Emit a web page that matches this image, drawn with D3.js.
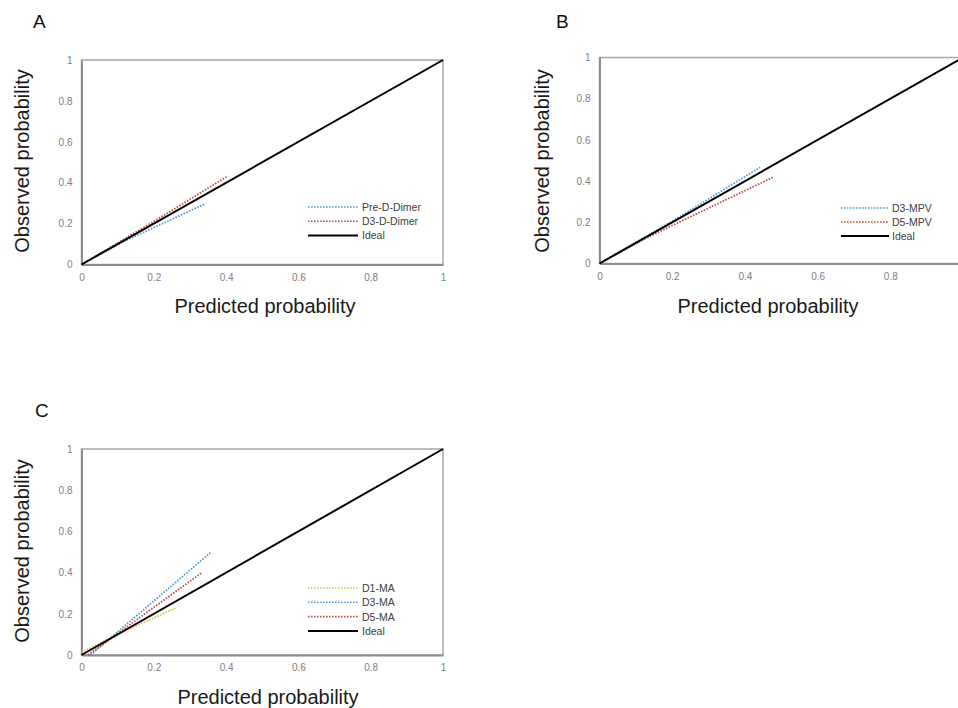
<!DOCTYPE html>
<html>
<head>
<meta charset="utf-8">
<script src="https://cdn.jsdelivr.net/npm/d3@7"></script>
<style>
  html, body { margin: 0; padding: 0; background: #fff; }
  svg { display: block; font-family: "Liberation Sans", Arial, sans-serif; }
</style>
</head>
<body>
<svg id="chart" width="958" height="708"></svg>
<script>
// ---- Data ----
const tickValues = [0, 0.2, 0.4, 0.6, 0.8, 1];
const tickLabels = ["0", "0.2", "0.4", "0.6", "0.8", "1"];
const ideal = [[0, 0], [1, 1]];

// Panel A
const preDDimer = [[0, 0], [0.12, 0.115], [0.34, 0.295]];
const d3DDimer  = [[0, 0], [0.2, 0.21], [0.405, 0.433]];
// Panel B
const d3MPV = [[0, 0], [0.2, 0.205], [0.442, 0.467]];
const d5MPV = [[0, 0], [0.13, 0.125], [0.48, 0.421]];
// Panel C
const d1MA = [[0, 0.012], [0.1, 0.1], [0.26, 0.228]];
const d3MA = [[0.025, 0], [0.359, 0.5]];
const d5MA = [[0.018, 0], [0.333, 0.4]];

const BLUE = "#5b9bd5", RED = "#c0504d", YEL = "#d6c85a";
const W = 958;

const panels = [
  { letter: "A", lx: 33, ly: 28,
    box: { l: 81.5, r: 443, t: 60, b: 264.5 },
    xTitle: { x: 265, y: 313 }, yTitle: { x: 29, y: 161 },
    legend: { x1: 308, x2: 358, tx: 362, y0: 207, dy: 14.2 },
    series: [
      { name: "Pre-D-Dimer", data: preDDimer, color: BLUE, dotted: true },
      { name: "D3-D-Dimer", data: d3DDimer, color: RED, dotted: true },
      { name: "Ideal", data: ideal, color: "#000", dotted: false }
    ] },
  { letter: "B", lx: 556, ly: 28,
    box: { l: 599.5, r: 963, t: 57.5, b: 263.5 },
    xTitle: { x: 768, y: 313 }, yTitle: { x: 549, y: 161 },
    legend: { x1: 841, x2: 889, tx: 892, y0: 208, dy: 14 },
    series: [
      { name: "D3-MPV", data: d3MPV, color: BLUE, dotted: true },
      { name: "D5-MPV", data: d5MPV, color: RED, dotted: true },
      { name: "Ideal", data: ideal, color: "#000", dotted: false }
    ] },
  { letter: "C", lx: 35, ly: 417,
    box: { l: 81.5, r: 443, t: 449, b: 655 },
    xTitle: { x: 268, y: 704 }, yTitle: { x: 29, y: 551 },
    legend: { x1: 308, x2: 358, tx: 362, y0: 588, dy: 14.3 },
    series: [
      { name: "D1-MA", data: d1MA, color: YEL, dotted: true },
      { name: "D3-MA", data: d3MA, color: BLUE, dotted: true },
      { name: "D5-MA", data: d5MA, color: RED, dotted: true },
      { name: "Ideal", data: ideal, color: "#000", dotted: false }
    ] }
];

const svg = d3.select("#chart");

panels.forEach(p => {
  const g = svg.append("g");
  const x = d3.scaleLinear().domain([0, 1]).range([p.box.l, p.box.r]);
  const y = d3.scaleLinear().domain([0, 1]).range([p.box.b, p.box.t]);

  // panel letter
  g.append("text").attr("x", p.lx).attr("y", p.ly)
    .attr("font-size", 19).attr("fill", "#111").text(p.letter);

  // frame
  g.append("rect")
    .attr("x", x(0)).attr("y", y(1))
    .attr("width", x(1) - x(0)).attr("height", y(0) - y(1))
    .attr("fill", "none").attr("stroke", "#a6a6a6").attr("stroke-width", 1.5);

  // axes (x ticks only where they fit inside the picture)
  const xIdx = tickValues.map((v, i) => i).filter(i => x(tickValues[i]) + 4 < W);
  const xAxis = d3.axisBottom(x).tickValues(xIdx.map(i => tickValues[i]))
    .tickFormat(d => tickLabels[tickValues.indexOf(d)]).tickSize(0).tickPadding(9);
  const yAxis = d3.axisLeft(y).tickValues(tickValues)
    .tickFormat((d, i) => tickLabels[i]).tickSize(0).tickPadding(9);

  const gx = g.append("g").attr("transform", `translate(0,${y(0)})`).call(xAxis);
  const gy = g.append("g").attr("transform", `translate(${x(0)},0)`).call(yAxis);
  [gx, gy].forEach(a => {
    a.select(".domain").attr("stroke", "#8c8c8c").attr("stroke-width", 2);
    a.selectAll("text").attr("fill", "#808080").attr("font-size", 10)
      .attr("font-family", "'Liberation Sans', Arial, sans-serif");
  });

  // lines
  const line = d3.line().x(d => x(d[0])).y(d => y(d[1]));
  p.series.forEach(s => {
    g.append("path").datum(s.data)
      .attr("d", line)
      .attr("fill", "none")
      .attr("stroke", s.color)
      .attr("stroke-width", s.dotted ? 1.8 : 2)
      .attr("stroke-dasharray", s.dotted ? "1.6,1.4" : null);
  });

  // legend
  p.series.forEach((s, i) => {
    const yy = p.legend.y0 + i * p.legend.dy;
    g.append("line")
      .attr("x1", p.legend.x1).attr("x2", p.legend.x2)
      .attr("y1", yy).attr("y2", yy)
      .attr("stroke", s.color)
      .attr("stroke-width", s.dotted ? 1.6 : 2)
      .attr("stroke-dasharray", s.dotted ? "1.6,1.4" : null);
    g.append("text").attr("x", p.legend.tx).attr("y", yy + 4)
      .attr("font-size", 10.5).attr("fill", "#404040").text(s.name);
  });

  // axis titles
  g.append("text").attr("x", p.xTitle.x).attr("y", p.xTitle.y)
    .attr("text-anchor", "middle").attr("font-size", 20).attr("fill", "#1a1a1a")
    .text("Predicted probability");
  g.append("text")
    .attr("transform", `translate(${p.yTitle.x},${p.yTitle.y}) rotate(-90)`)
    .attr("text-anchor", "middle").attr("font-size", 20).attr("fill", "#1a1a1a")
    .text("Observed probability");
});
</script>
</body>
</html>
